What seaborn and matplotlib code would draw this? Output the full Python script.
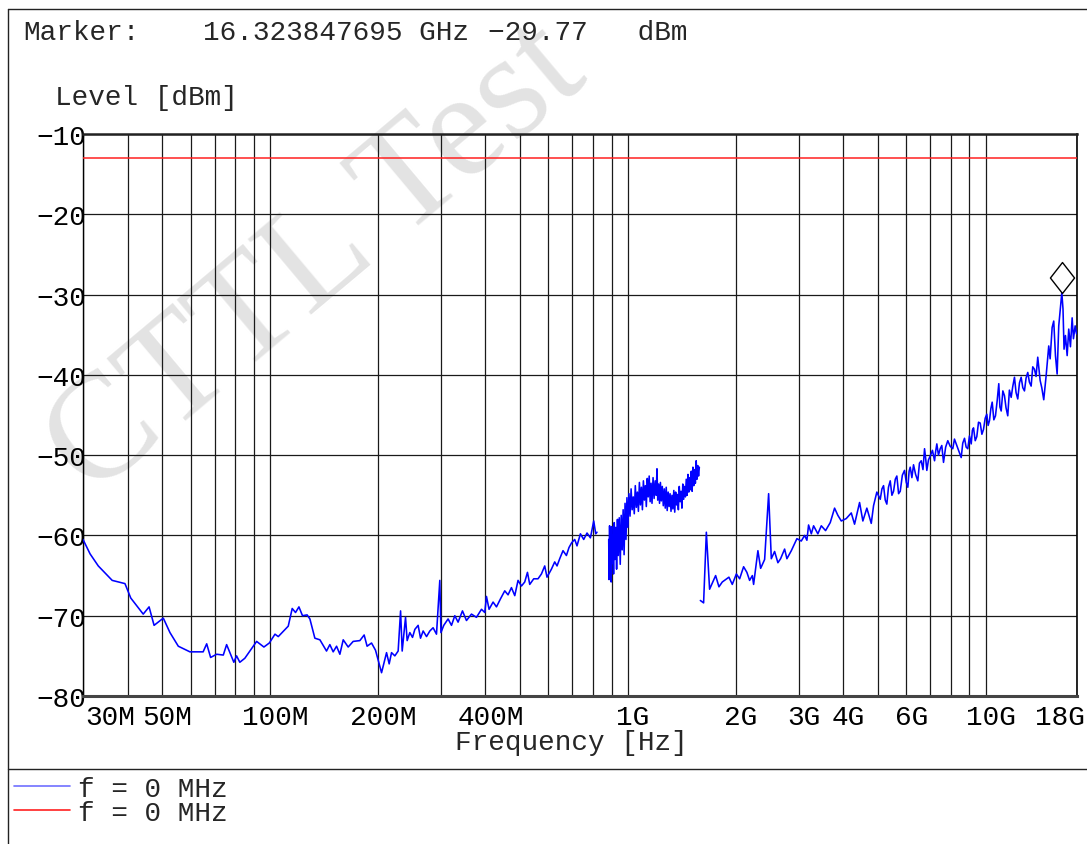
import matplotlib
matplotlib.use("Agg")
import numpy as np
import pandas as pd
import matplotlib.pyplot as plt
import seaborn as sns
from matplotlib.lines import Line2D
from matplotlib.path import Path
from matplotlib.ticker import NullLocator
from matplotlib.transforms import ScaledTranslation

# ---------------- data ----------------
# sweep 1: 30 MHz .. ~820 MHz  (frequency in MHz, level in dBm)
seg1_freq = [30.0, 31.4, 33.1, 36.2, 39.3, 40.8, 44.2, 45.9, 47.4, 50.3, 52.5, 55.4, 59.7,
             65.0, 66.5, 68.2, 70.9, 74.0, 75.6, 79.2, 80.6, 82.3, 85.0, 91.7, 96.1, 99.5,
             103.2, 105.4, 112.4, 115.3, 117.8, 120.4, 123.2, 126.9, 129.2, 133.4, 137.8,
             143.8, 146.9, 150.1, 153.4, 156.7, 160.1, 165.3, 170.7, 178.2, 183.2, 186.7,
             192.1, 197.1, 204.9, 211.6, 215.2, 218.5, 223.2, 228.0, 231.6, 234.0, 239.1,
             241.6, 245.8, 250.1, 253.9, 259.3, 263.3, 267.8, 273.7, 279.6, 285.5, 291.8,
             298.1, 300.3, 305.8, 314.4, 321.4, 328.3, 335.3, 344.9, 353.9, 365.5, 377.4,
             389.8, 398.2, 402.5, 409.3, 420.0, 429.3, 440.5, 452.8, 462.5, 472.7, 482.9,
             493.2, 504.1, 514.9, 524.0, 531.8, 545.6, 560.9, 573.3, 585.6, 594.3, 611.4,
             624.5, 633.9, 644.9, 658.7, 673.3, 684.7, 696.7, 710.3, 720.8, 736.8, 752.6,
             768.8, 785.8, 802.7, 813.1, 819.8]
seg1_level = [-60.5, -62.3, -63.8, -65.6, -66.0, -67.8, -69.8, -68.9, -71.2, -70.3, -72.1, -73.8, -74.5,
              -74.5, -73.5, -75.2, -74.8, -74.9, -73.6, -75.8, -75.0, -75.8, -75.3, -73.2, -73.9, -73.4,
              -72.3, -72.6, -71.3, -69.1, -69.6, -68.9, -70.0, -69.9, -70.4, -72.8, -73.0,
              -74.4, -73.6, -74.5, -73.8, -74.8, -73.0, -73.9, -73.2, -73.1, -72.4, -73.8,
              -73.4, -74.3, -77.1, -74.6, -76.0, -74.6, -75.0, -74.4, -69.4, -74.4, -70.2,
              -73.1, -72.1, -72.7, -71.7, -71.2, -72.8, -71.9, -72.6, -71.9, -71.5, -72.3,
              -65.6, -72.1, -71.2, -70.4, -71.2, -70.0, -70.8, -69.4, -70.6, -69.8, -70.2,
              -69.2, -69.6, -67.6, -69.2, -68.3, -68.9, -67.9, -66.9, -67.4, -66.5, -67.5,
              -65.6, -66.3, -65.8, -64.6, -66.1, -65.4, -65.4, -64.8, -63.8, -65.2, -64.2,
              -63.3, -63.8, -62.9, -61.9, -62.5, -61.5, -60.9, -60.5, -61.3, -59.8, -60.5,
              -59.7, -60.3, -58.2, -59.8, -59.6]

# sweep 2: ~880 MHz .. ~1.6 GHz
seg2_freq = [884, 886, 889, 892, 895, 898, 901, 904, 908, 912, 916, 920, 925, 930, 935, 940,
             946, 952, 958, 964, 970, 976, 982, 988, 994, 1000, 1007, 1014, 1021, 1028, 1035,
             1042, 1049, 1056, 1063, 1070, 1077, 1084, 1091, 1098, 1105, 1112, 1119, 1126,
             1133, 1140, 1147, 1154, 1161, 1168, 1176, 1184, 1192, 1200, 1206, 1212, 1219,
             1226, 1233, 1240, 1248, 1256, 1264, 1272, 1280, 1288, 1296, 1304, 1312, 1320,
             1328, 1336, 1344, 1352, 1360, 1368, 1376, 1384, 1392, 1400, 1408, 1416, 1424,
             1432, 1440, 1448, 1456, 1464, 1472, 1480, 1488, 1496, 1504, 1512, 1520, 1528,
             1536, 1544, 1552, 1560, 1568, 1576, 1584]
seg2_level = [-60.5, -65.5, -58.8, -64.0, -59.5, -65.8, -58.9, -63.5, -60.0, -64.8, -58.4, -63.0,
              -59.0, -64.2, -58.0, -62.5, -57.8, -63.6, -57.5, -61.8, -56.8, -62.4, -56.0, -60.5,
              -55.3, -59.0, -54.8, -57.6, -54.2, -56.8, -55.2, -57.3, -53.8, -56.5, -54.6, -57.0,
              -53.4, -56.2, -54.0, -56.8, -53.2, -55.6, -53.8, -56.4, -52.9, -55.2, -52.6, -55.8,
              -53.5, -56.0, -52.8, -55.4, -53.2, -55.0, -51.7, -55.6, -53.6, -56.0, -53.4, -55.7,
              -53.9, -56.3, -54.2, -56.6, -54.0, -56.9, -54.6, -56.4, -54.8, -57.0, -55.0, -56.7,
              -54.4, -57.1, -54.6, -56.2, -54.9, -56.8, -53.9, -55.8, -54.5, -56.6, -53.6, -55.5,
              -53.9, -55.2, -53.0, -55.0, -52.4, -54.6, -52.8, -54.3, -52.0, -54.5, -51.5, -53.8,
              -51.8, -53.5, -50.7, -53.0, -51.3, -52.6, -51.5]

# sweep 3: ~1.6 GHz .. 18 GHz
seg3_freq = [1594, 1628, 1657, 1692, 1759, 1797, 1836, 1916, 1958, 2010, 2053, 2106, 2151, 2189,
             2228, 2246, 2309, 2350, 2411, 2474, 2517, 2571, 2626, 2672, 2742, 2783, 2863, 2968,
             3052, 3118, 3165, 3199, 3256, 3304, 3396, 3472, 3569, 3678, 3782, 3863, 3949, 4077,
             4211, 4301, 4442, 4537, 4655, 4789, 4860, 4964,
             5074, 5130, 5183, 5240, 5294, 5350, 5411, 5470, 5528, 5590, 5646, 5710, 5771, 5850,
             5933, 6000, 6060, 6110, 6154, 6220, 6286, 6370, 6462, 6530, 6605, 6680, 6748, 6800,
             6848, 6920, 7000, 7100, 7197, 7250, 7303, 7380, 7464, 7540, 7624, 7730, 7837, 7960,
             8093, 8180, 8272, 8400, 8543, 8630, 8727, 8820, 8914, 9010, 9112, 9180, 9248, 9350,
             9445, 9550, 9654, 9760, 9861, 9970, 10072, 10160, 10249, 10340, 10429, 10540, 10652,
             10770, 10881, 10960, 11051, 11170, 11287, 11400, 11528, 11650, 11784, 11900, 12037,
             12160, 12294, 12430, 12566, 12700, 12836, 12970, 13111, 13250, 13400, 13540, 13688,
             13830, 13982, 14199, 14350, 14532, 14758,
             15007, 15143, 15338, 15497, 15670, 15840,
             16005, 16323.847695, 16450, 16560, 16711, 16895, 17068, 17256, 17446, 17594, 17787,
             17950]
seg3_level = [-68.1, -68.4, -59.6, -66.7, -65.0, -66.4, -65.8, -65.2, -66.1, -64.8, -65.4, -63.9,
              -64.6, -65.6, -65.0, -66.1, -61.9, -64.1, -63.0, -54.8, -62.9, -62.0, -63.4, -62.9,
              -61.7, -62.9, -61.9, -60.4, -60.7, -60.0, -60.6, -58.7, -59.8, -58.8, -59.8, -58.8,
              -59.4, -58.4, -56.6, -57.5, -58.2, -57.9, -57.2, -58.6, -55.9, -58.2, -56.6, -58.5,
              -56.3, -54.6,
              -55.5, -54.2, -53.8, -55.6, -56.1, -54.0, -53.2, -55.0, -54.5, -53.0, -52.6, -54.8,
              -54.5, -52.5, -51.9, -53.4, -54.0, -52.0, -51.5, -52.8, -51.2, -52.4, -53.2, -51.0,
              -50.7, -51.8, -49.2, -50.5, -51.9, -50.6, -50.1, -49.4, -50.7, -49.5, -48.6, -50.0,
              -49.2, -48.8, -50.9, -49.0, -48.2, -48.9, -49.2, -48.0, -48.6, -49.4, -50.3, -48.5,
              -47.9, -49.0, -49.2, -47.6, -48.6, -46.9, -46.6, -48.2, -47.7, -45.9, -46.0, -47.4,
              -46.8, -45.4, -44.9, -46.3, -45.7, -44.2, -43.4, -45.6, -45.1, -43.2, -41.1, -44.0,
              -44.5, -42.0, -42.6, -44.1, -45.1, -41.9, -42.8, -41.5, -40.3, -42.2, -43.0, -41.0,
              -40.3, -41.6, -42.0, -40.4, -39.7, -40.9, -41.4, -39.0, -39.3, -40.2, -37.8, -40.7,
              -41.6, -43.1, -40.1,
              -36.4, -38.0, -34.1, -33.3, -37.6, -39.9,
              -33.9, -29.77, -31.8, -36.8, -35.1, -37.6, -34.3, -36.5, -32.9, -35.5, -33.9,
              -34.9]

marker_freq = 16323.847695   # MHz
marker_level = -29.77        # dBm
limit_level = -13.0          # dBm

x_tick_freqs = [30, 40, 50, 60, 70, 80, 90, 100, 200, 300, 400, 500, 600, 700, 800, 900,
                1000, 2000, 3000, 4000, 5000, 6000, 7000, 8000, 9000, 10000, 18000]
x_tick_labels = ["30M", "", "50M", "", "", "", "", "100M", "200M", "", "400M", "", "", "",
                 "", "", "1G", "2G", "3G", "4G", "", "6G", "", "", "", "10G", "18G"]
y_ticks = [-80, -70, -60, -50, -40, -30, -20, -10]

# ---------------- style ----------------
sns.set_theme(style="white")
FONT = ["Liberation Mono", "DejaVu Sans Mono"]
plt.rcParams["font.family"] = FONT
plt.rcParams["axes.unicode_minus"] = True
FS = 20

W, H = 1087, 845
fig = plt.figure(figsize=(W / 100, H / 100), dpi=100)
fig.patch.set_facecolor("white")

def fx(x):
    return x / W

def fy(y):
    return 1 - y / H

ax = fig.add_axes([fx(83), fy(697), 994 / W, 562 / H])
ax.patch.set_alpha(0)
ax.set_xscale("log")

frames = []
for k, (f, lv) in enumerate([(seg1_freq, seg1_level), (seg2_freq, seg2_level), (seg3_freq, seg3_level)]):
    frames.append(pd.DataFrame({"freq": f, "level": lv, "sweep": k}))
trace = pd.concat(frames, ignore_index=True)

sns.lineplot(data=trace, x="freq", y="level", units="sweep", estimator=None, sort=False,
             color="#0000ff", lw=1.15, ax=ax, legend=False, zorder=3)
ax.axhline(limit_level, color="#ff2020", lw=1.1, zorder=3)

# peak marker: diamond sitting on top of the marked point
diamond = Path([(0, 0), (-0.39, 0.5), (0, 1), (0.39, 0.5), (0, 0)],
               [Path.MOVETO, Path.LINETO, Path.LINETO, Path.LINETO, Path.CLOSEPOLY])
ax.plot([marker_freq], [marker_level], linestyle="none", marker=diamond, markersize=44.6,
        mfc="none", mec="black", mew=1.0, zorder=4)

ax.set_xlim(30, 18000)
ax.set_ylim(-80, -10)
ax.set_xticks(x_tick_freqs)
ax.set_xticklabels(x_tick_labels)
ax.xaxis.set_minor_locator(NullLocator())
ax.set_yticks(y_ticks)
ax.set_yticklabels(["\u2212%d" % abs(v) for v in y_ticks])
ax.tick_params(axis="both", length=0, labelsize=FS, colors="black")
ax.tick_params(axis="y", pad=-2)
ax.tick_params(axis="x", pad=6)
ax.grid(True, color="#1a1a1a", lw=0.9)
ax.set_axisbelow(True)

for side, lw, col in [("top", 1.8, "#222222"), ("bottom", 2.2, "#444444"),
                      ("left", 1.0, "black"), ("right", 1.2, "black")]:
    ax.spines[side].set_visible(True)
    ax.spines[side].set_linewidth(lw)
    ax.spines[side].set_color(col)

for lab in ax.get_xticklabels():
    txt = lab.get_text()
    dx = 3.6
    if txt == "30M":
        lab.set_ha("left")
        dx = 1.5
    elif txt == "18G":
        lab.set_ha("right")
        dx = 6.0
    lab.set_transform(lab.get_transform() + ScaledTranslation(dx / 72, 0, fig.dpi_scale_trans))

ax.set_xlabel("Frequency [Hz]", fontsize=FS, va="center")
ax.xaxis.set_label_coords((571 - 83) / 994, -(743 - 697) / 562)
ax.set_ylabel("Level [dBm]", fontsize=FS, rotation=0, ha="left", va="center")
ax.yaxis.set_label_coords((55 - 83) / 994, (697 - 98) / 562)

# header line
fig.text(fx(23), fy(33), "Marker:", fontsize=FS, va="center", ha="left")
fig.text(fx(203), fy(33), "16.323847695 GHz", fontsize=FS, va="center", ha="left")
fig.text(fx(488), fy(33), "\u221229.77   dBm", fontsize=FS, va="center", ha="left")

# report frame
for (x0, y0, x1, y1) in [(8, 10, 1087, 10), (8, 10, 8, 845), (8, 770, 1087, 770)]:
    fig.add_artist(Line2D([fx(x0), fx(x1)], [fy(y0), fy(y1)], transform=fig.transFigure,
                          color="#222222", lw=1.0))

# legend
handles = [Line2D([], [], color="#6f6fff", lw=1.2), Line2D([], [], color="#ff2020", lw=1.2)]
fig.legend(handles, ["f = 0 MHz", "f = 0 MHz"], loc="upper left",
           bbox_to_anchor=(fx(14), fy(777)), bbox_transform=fig.transFigure,
           frameon=False, fontsize=FS, handlelength=2.0, handletextpad=0.3,
           labelspacing=-0.08, borderpad=0, borderaxespad=0)

# watermark
fig.text(fx(318), fy(262), "CTTL Test", fontsize=108, rotation=40, color="#dedede",
         family=["Liberation Serif", "DejaVu Serif"], ha="center", va="center",
         alpha=0.85, zorder=-1)

fig.savefig("out.png", dpi=100)
